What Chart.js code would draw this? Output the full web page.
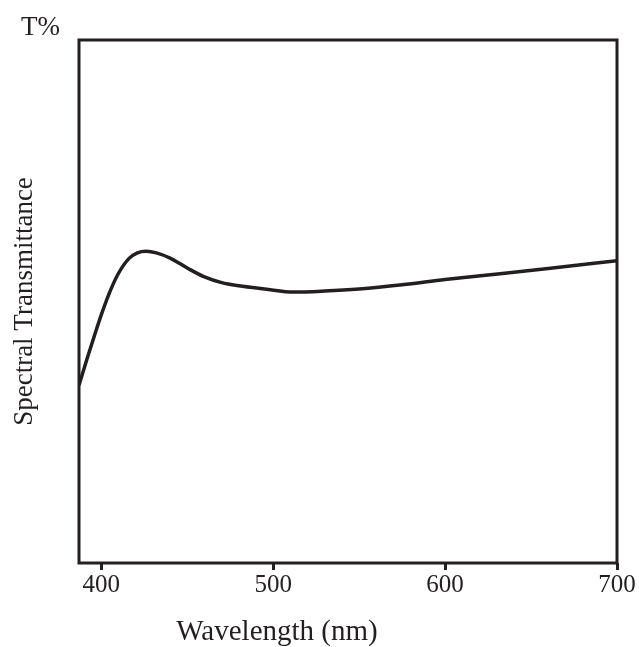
<!DOCTYPE html>
<html>
<head>
<meta charset="utf-8">
<script src="https://cdn.jsdelivr.net/npm/chart.js@4.4.0/dist/chart.umd.min.js"></script>
<style>
    html, body { margin: 0; padding: 0; background: #fff; }
    #wrap { width: 639px; height: 647px; }
</style>
</head>
<body>
<div id="wrap"><canvas id="chart"></canvas></div>
<script>
// Данные кривой пропускания
const wavelengths = [387, 392, 396, 400, 405, 410, 416, 421, 426, 432, 440, 450, 460, 470, 480, 495, 512, 530, 550, 575, 600, 632, 660, 700];
const transmittance = [34.0, 39.4, 43.5, 47.5, 51.9, 55.4, 58.2, 59.3, 59.6, 59.3, 58.3, 56.4, 54.7, 53.6, 53.0, 52.4, 51.8, 52.0, 52.4, 53.2, 54.2, 55.3, 56.3, 57.8];
const xTicks = [400, 500, 600, 700];

const serif = '"Liberation Serif", "DejaVu Serif", serif';
const inkColor = '#231f20';

// Рамка и подписи осей
const framePlugin = {
    id: 'frame',
    afterDraw(chart) {
        const ctx = chart.ctx;
        const a = chart.chartArea;
        ctx.save();
        ctx.strokeStyle = inkColor;
        ctx.lineWidth = 3;
        ctx.strokeRect(a.left, a.top, a.right - a.left, a.bottom - a.top);

        ctx.fillStyle = inkColor;
        ctx.textBaseline = 'middle';
        ctx.textAlign = 'left';
        ctx.font = '27px ' + serif;
        ctx.fillText('T%', 21, 28);

        ctx.textAlign = 'center';
        ctx.font = '29px ' + serif;
        ctx.fillText('Wavelength (nm)', 277, 632);

        ctx.font = '27px ' + serif;
        ctx.translate(25, (a.top + a.bottom) / 2);
        ctx.rotate(-Math.PI / 2);
        ctx.fillText('Spectral Transmittance', 0, 0);
        ctx.restore();
    }
};

new Chart(document.getElementById('chart'), {
    type: 'line',
    data: {
        datasets: [{
            data: wavelengths.map((w, i) => ({ x: w, y: transmittance[i] })),
            borderColor: inkColor,
            borderWidth: 3.5,
            pointRadius: 0,
            fill: false,
            cubicInterpolationMode: 'monotone'
        }]
    },
    options: {
        responsive: true,
        maintainAspectRatio: false,
        animation: false,
        layout: {
            padding: { left: 79, right: 22, top: 40, bottom: 0 }
        },
        plugins: {
            legend: { display: false },
            tooltip: { enabled: false }
        },
        scales: {
            x: {
                type: 'linear',
                min: 387,
                max: 700,
                afterBuildTicks: function(axis) {
                    axis.ticks = xTicks.map(v => ({ value: v }));
                },
                afterFit: function(axis) {
                    axis.height = 84;
                },
                ticks: {
                    color: inkColor,
                    font: { family: serif, size: 25 },
                    padding: 0,
                    maxRotation: 0
                },
                grid: {
                    drawOnChartArea: false,
                    tickLength: 7,
                    tickWidth: 3,
                    tickColor: inkColor
                },
                border: { display: false }
            },
            y: {
                display: false,
                min: 0,
                max: 100
            }
        }
    },
    plugins: [framePlugin]
});
</script>
</body>
</html>
